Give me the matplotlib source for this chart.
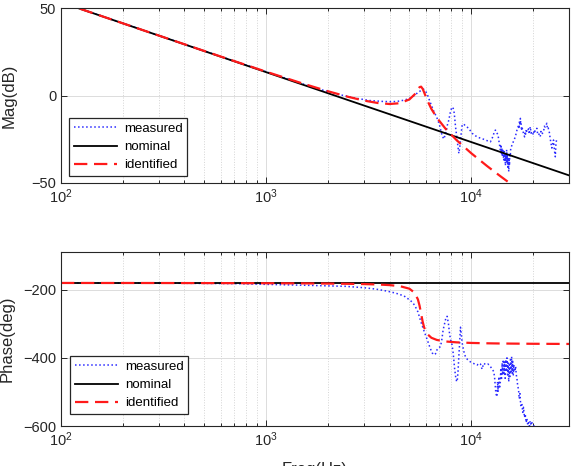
import matplotlib
matplotlib.use("Agg")
import matplotlib.pyplot as plt
from matplotlib.ticker import LogLocator, NullFormatter

plt.rcParams['font.family'] = ['Liberation Sans', 'DejaVu Sans']
plt.rcParams['mathtext.fontset'] = 'custom'
plt.rcParams['mathtext.rm'] = 'Liberation Sans'
plt.rcParams['mathtext.it'] = 'Liberation Sans'
plt.rcParams['mathtext.bf'] = 'Liberation Sans'
plt.rcParams['mathtext.default'] = 'regular'

# ---------------- data ----------------
legend_labels = ["measured", "nominal", "identified"]
mag_ticks = [-50, 0, 50]
phase_ticks = [-600, -400, -200]
x_ticks = [1e2, 1e3, 1e4]

# nominal (double integrator)
f_nom = [100, 30000]
mag_nom = [53.45, -45.63]
phase_nom = [-180, -180]

# identified model
f_id = [100, 150, 200, 300, 500, 700, 1000, 1500, 2000, 2500, 3000, 3500, 4000,
        4500, 5000, 5300, 5500, 5600, 5700, 5800, 5900, 6100, 6400, 6800, 7500,
        8500, 10000, 12000, 14000, 16000, 20000, 30000]
mag_id = [53.45, 46.42, 41.42, 34.39, 25.56, 19.78, 13.72, 7.03, 2.55, -0.61,
          -2.81, -4.20, -4.79, -4.32, -2.15, 0.70, 3.53, 4.84, 5.15, 3.94, 1.84,
          -2.50, -7.61, -12.60, -18.92, -25.52, -32.92, -40.44, -46.43, -51.46,
          -59.66, -74.16]
phase_id = [-180.0, -180.1, -180.1, -180.2, -180.4, -180.6, -180.8, -181.2,
            -181.8, -182.5, -183.3, -184.5, -186.3, -189.5, -196.9, -208.8,
            -228.3, -246.2, -270.0, -293.5, -310.8, -329.5, -341.0, -347.3,
            -351.8, -354.4, -356.1, -357.2, -357.8, -358.1, -358.6, -359.1]

# measured magnitude
f_meas_mag = [100, 130, 170, 220, 300, 400, 550, 750, 1000, 1300, 1700, 2200,
              2700, 3200, 3700, 4100, 4400, 4700, 5000, 5300, 5500, 5700, 5850,
              5950, 6100, 6300, 6550, 6800, 7000, 7100, 7200, 7350, 7450, 7550,
              7650, 7780, 7900, 8020, 8120, 8230, 8310, 8390, 8470, 8550, 8630,
              8710, 8790, 8880, 8960, 9040, 9200, 9380, 9550, 9730, 9900, 10100,
              10500, 10890, 11300, 11740, 12100, 12420, 12700, 13000, 13130,
              13300, 13520, 13700, 13880, 13970, 14050, 14130, 14200, 14300,
              14410, 14480, 14550, 14620, 14690, 14760, 14820, 14900, 14960,
              15030, 15100, 15180, 15250, 15320, 15380, 15420, 15500, 15600,
              15820, 16100, 16420, 16700, 17040, 17120, 17200, 17290, 17380,
              17450, 17530, 17600, 17680, 17950, 18220, 18330, 18450, 18580,
              18710, 19050, 19200, 19420, 19600, 19800, 20140, 20300, 20500,
              20910, 21100, 21300, 21710, 21900, 22100, 22530, 22750, 22950,
              23390, 23550, 23750, 24110, 24250, 24400, 24740, 25000, 25210,
              25450, 25720, 25900, 26100]
mag_meas = [53.4, 48.9, 44.3, 39.8, 34.4, 29.4, 23.9, 18.6, 13.7, 9.2, 4.7, 1.0,
            -1.3, -2.8, -3.3, -3.5, -3.2, -2.6, -1.6, 0.2, 1.8, 3.0, 3.7, 3.2,
            1.0, -3.5, -8.5, -12.5, -16.5, -19.5, -22.5, -24.8, -23.0, -20.5,
            -17.0, -14.0, -10.0, -7.2, -6.5, -8.2, -12.5, -17.8, -21.8, -25.4,
            -29.5, -33.0, -30.0, -25.4, -20.5, -16.8, -16.2, -17.4, -18.0,
            -18.7, -20.0, -21.5, -23.0, -24.0, -24.6, -25.4, -26.0, -26.4,
            -24.0, -20.5, -19.7, -21.0, -22.5, -27.0, -31.0, -28.0, -33.5,
            -30.0, -35.0, -31.0, -37.0, -32.0, -38.0, -33.0, -40.0, -34.0,
            -37.0, -31.0, -39.0, -34.0, -41.0, -36.0, -43.5, -37.0, -40.0,
            -33.0, -35.0, -30.0, -28.3, -26.0, -23.6, -20.0, -16.8, -19.0,
            -14.5, -17.0, -13.0, -16.0, -15.5, -20.0, -17.8, -21.0, -23.6,
            -20.5, -22.0, -19.0, -20.8, -19.0, -22.0, -17.8, -21.5, -20.5,
            -22.5, -19.5, -20.5, -18.7, -22.0, -21.5, -23.6, -20.5, -22.0,
            -20.8, -17.5, -18.0, -15.8, -19.0, -18.5, -21.5, -24.0, -26.0,
            -30.0, -27.5, -25.4, -31.0, -35.0, -28.0, -25.0]

# measured phase
f_meas_ph = [100, 300, 700, 1160, 1600, 2450, 3000, 3430, 3900, 4290, 4700,
             5070, 5300, 5500, 5680, 5900, 6110, 6300, 6450, 6580, 6700, 6820,
             6950, 7090, 7200, 7300, 7450, 7550, 7640, 7750, 7850, 7940, 8070,
             8150, 8230, 8300, 8400, 8500, 8560, 8630, 8700, 8780, 8870, 8950,
             9040, 9200, 9380, 9600, 9800, 10100, 10400, 10700, 10890, 11100,
             11300, 11510, 11800, 12080, 12400, 12880, 13000, 13100, 13200,
             13370, 13450, 13550, 13650, 13750, 13880, 13950, 14050, 14150,
             14250, 14350, 14450, 14550, 14650, 14750, 14850, 14950, 15050,
             15150, 15250, 15350, 15450, 15550, 15650, 15750, 15850, 15950,
             16050, 16150, 16300, 16480, 16600, 16720, 16850, 17030, 17150,
             17300, 17450, 17670, 17850, 18000, 18200, 18350, 18550, 18700,
             18900, 19050, 19250, 19400, 19600, 19800, 20140, 20500, 21000,
             25000]
phase_meas = [-180, -180.5, -182, -185, -187, -190, -194, -198, -204, -210,
              -218, -232, -245, -265, -293, -322, -347, -370, -385, -391, -388,
              -376, -370, -367, -345, -318, -295, -280, -278, -300, -330, -347,
              -362, -380, -405, -430, -455, -470, -465, -440, -400, -360, -310,
              -330, -356, -380, -397, -405, -410, -414, -418, -421, -416, -418,
              -433, -416, -420, -418, -425, -440, -455, -480, -505, -514, -470,
              -500, -455, -490, -470, -430, -465, -415, -450, -405, -445, -410,
              -460, -405, -440, -400, -450, -415, -470, -420, -455, -405, -440,
              -396, -445, -410, -450, -420, -440, -425, -450, -460, -480, -494,
              -520, -505, -540, -533, -560, -545, -575, -565, -590, -578, -598,
              -590, -600, -585, -598, -590, -596, -615, -650, -700]

# ---------------- figure ----------------
W, H = 572, 466
fig = plt.figure(figsize=(W / 100, H / 100), dpi=100)
ax1 = fig.add_axes([61 / W, 1 - 183 / H, 508 / W, 174.7 / H])
ax2 = fig.add_axes([61 / W, 1 - 426 / H, 508 / W, 173.7 / H])

c_meas = '#2a2aff'
c_nom = 'black'
c_id = '#ff1a1a'


def style(ax, ylim, yticks, ylabel):
    ax.set_xscale('log')
    ax.set_xlim(100, 30000)
    ax.set_ylim(*ylim)
    ax.set_yticks(yticks)
    ax.set_xticks(x_ticks)
    ax.xaxis.set_minor_locator(LogLocator(base=10, subs=range(2, 10), numticks=20))
    ax.xaxis.set_minor_formatter(NullFormatter())
    ax.grid(True, which='major', color='#dcdcdc', linestyle='-', linewidth=0.7)
    ax.grid(True, which='minor', axis='x', color='#d4d4d4', linestyle=':', linewidth=0.7)
    ax.set_axisbelow(True)
    ax.tick_params(which='both', direction='in', top=True, right=True,
                   labelsize=10.5, colors='#262626', length=4, width=0.7)
    ax.tick_params(which='minor', length=2.5)
    for s in ax.spines.values():
        s.set_color('#262626')
        s.set_linewidth(0.8)
    ax.set_ylabel(ylabel, fontsize=12, color='#262626')


style(ax1, (-50, 50), mag_ticks, 'Mag(dB)')
style(ax2, (-600, -90), phase_ticks, 'Phase(deg)')

ax1.plot(f_meas_mag, mag_meas, linestyle=':', color=c_meas, linewidth=1.1, label=legend_labels[0])
ax1.plot(f_nom, mag_nom, linestyle='-', color=c_nom, linewidth=1.3, label=legend_labels[1])
ax1.plot(f_id, mag_id, linestyle='--', color=c_id, linewidth=1.6, dashes=(6, 3), label=legend_labels[2])

ax2.plot(f_meas_ph, phase_meas, linestyle=':', color=c_meas, linewidth=1.1, label=legend_labels[0])
ax2.plot(f_nom, phase_nom, linestyle='-', color=c_nom, linewidth=1.3, label=legend_labels[1])
ax2.plot(f_id, phase_id, linestyle='--', color=c_id, linewidth=1.6, dashes=(6, 3), label=legend_labels[2])

ax1.yaxis.set_label_coords(-0.088, 0.5)
ax2.yaxis.set_label_coords(-0.092, 0.5)

leg_kw = dict(loc='lower left', fontsize=9.5, frameon=True, fancybox=False,
              edgecolor='#262626', framealpha=1, handlelength=3.3,
              handletextpad=0.5, labelspacing=0.45, borderpad=0.35,
              borderaxespad=0)
l1 = ax1.legend(bbox_to_anchor=(0.016, 0.04), **leg_kw)
l2 = ax2.legend(bbox_to_anchor=(0.018, 0.069), **leg_kw)
for l in (l1, l2):
    l.get_frame().set_linewidth(0.9)

ax2.set_xlabel('Freq(Hz)', fontsize=12, color='#262626')
ax2.xaxis.set_label_coords(0.5, -0.205)

fig.savefig('out.png', dpi=100)
